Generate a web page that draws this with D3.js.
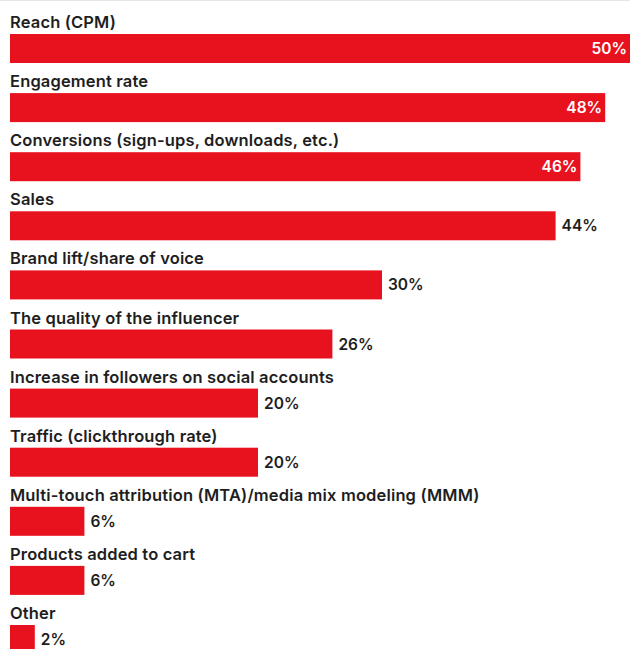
<!DOCTYPE html>
<html>
<head>
<meta charset="utf-8">
<script src="https://cdn.jsdelivr.net/npm/d3@7"></script>
<style>
  body { margin: 0; background: #fff; }
  text { font-family: Inter, "Noto Sans", sans-serif; }
</style>
</head>
<body>
<svg id="chart" width="630" height="649"></svg>
<script>
const categories = [
    "Reach (CPM)",
    "Engagement rate",
    "Conversions (sign-ups, downloads, etc.)",
    "Sales",
    "Brand lift/share of voice",
    "The quality of the influencer",
    "Increase in followers on social accounts",
    "Traffic (clickthrough rate)",
    "Multi-touch attribution (MTA)/media mix modeling (MMM)",
    "Products added to cart",
    "Other"
];
const values = [50, 48, 46, 44, 30, 26, 20, 20, 6, 6, 2];
const insideCount = 3;   // first bars carry the label inside

var svg = d3.select("#chart"),
    margin = {left: 10, right: 0, top: 34},
    width = +svg.attr("width") - margin.left - margin.right;

var barHeight = 29;
var rowStep = 59.1;

let x = d3.scaleLinear().domain([0, 50]).range([margin.left, margin.left + width]);
let y = d3.scaleLinear().domain([0, 1]).range([margin.top, margin.top + rowStep]);

// faint rule on top
svg.append('line')
    .attr('x1', 0).attr('x2', 630)
    .attr('y1', 0.5).attr('y2', 0.5)
    .style('stroke', '#e6e6e6');

let rows = svg.selectAll('.row')
    .data(values)
    .enter().append('g')
    .classed('row', true)
    .attr('transform', (d, i) => 'translate(0,' + y(i) + ')');

rows.append('text')
    .attr('x', margin.left)
    .attr('y', -6)
    .style('font-size', '16.5px')
    .style('font-weight', 600)
    .style('letter-spacing', '0.15px')
    .style('fill', '#1e1e1e')
    .text((d, i) => categories[i]);

rows.append('rect')
    .attr('x', x(0))
    .attr('y', 0)
    .attr('width', d => x(d) - x(0))
    .attr('height', barHeight)
    .style('fill', '#e8111e');

rows.append('text')
    .attr('x', (d, i) => i < insideCount ? x(d) - 3 : x(d) + 6)
    .attr('y', barHeight / 2 + 5.5)
    .attr('text-anchor', (d, i) => i < insideCount ? 'end' : 'start')
    .style('font-size', '15.5px')
    .style('font-weight', 600)
    .style('fill', (d, i) => i < insideCount ? '#fff' : '#1e1e1e')
    .text(d => d + '%');
</script>
</body>
</html>
